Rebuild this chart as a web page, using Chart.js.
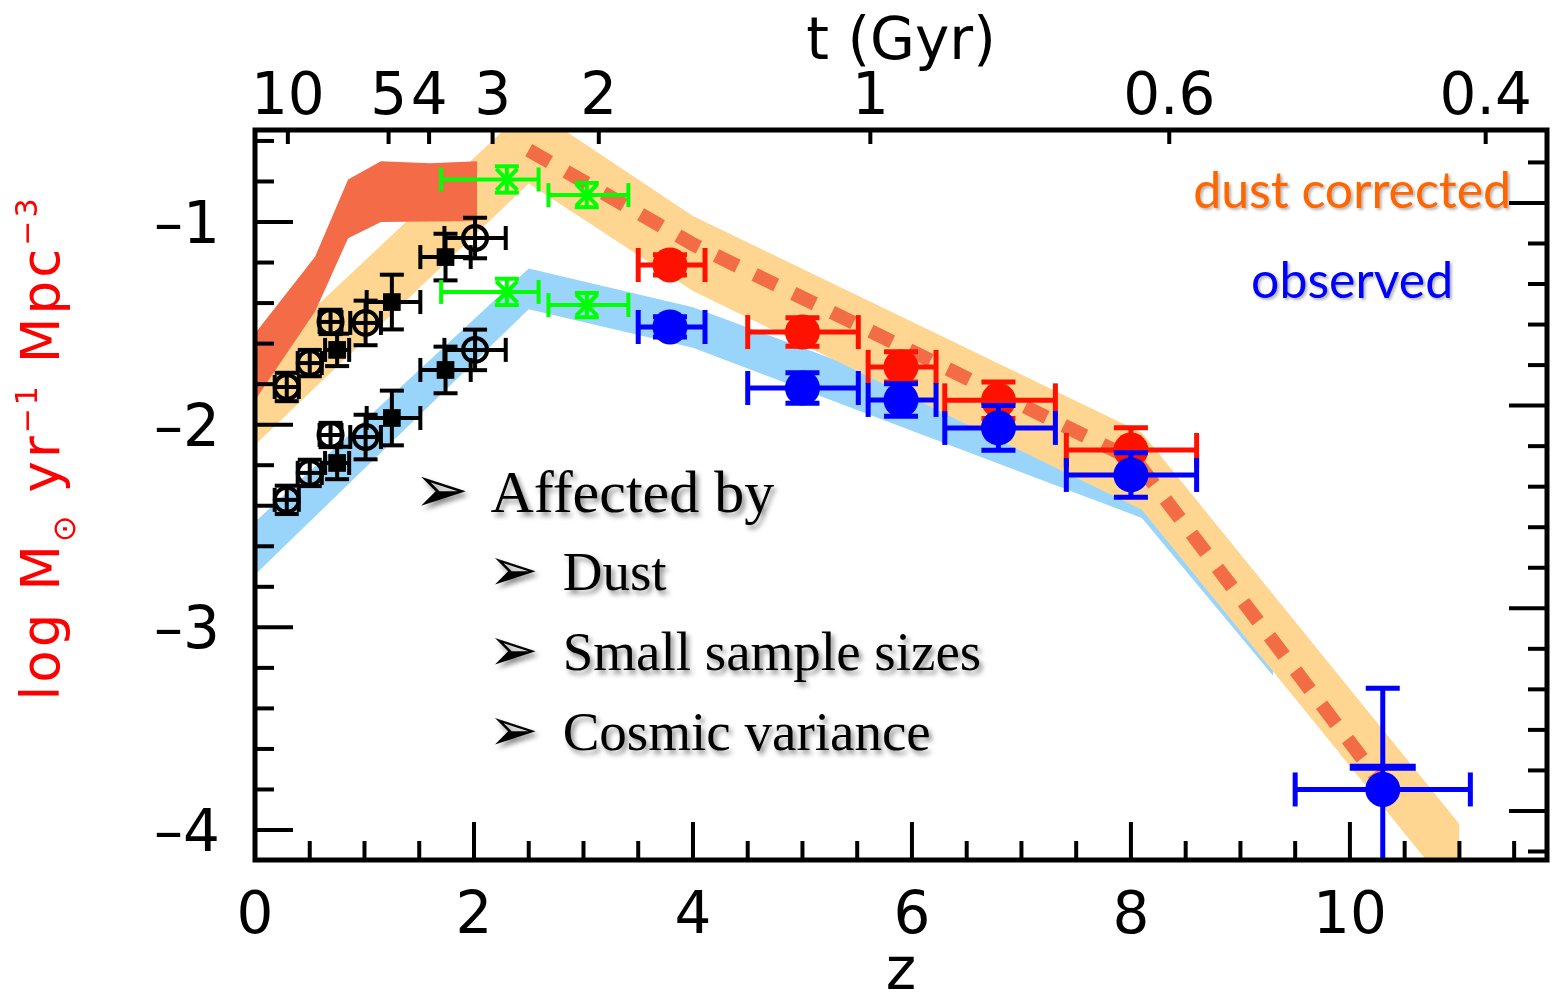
<!DOCTYPE html>
<html><head><meta charset="utf-8">
<script src="https://cdn.jsdelivr.net/npm/chart.js@4.4.1/dist/chart.umd.min.js"></script>
<style>html,body{margin:0;padding:0;background:#fff;}#wrap{width:1554px;height:997px;position:relative;}canvas{display:block;}</style>
</head><body><div id="wrap"><canvas id="c"></canvas></div>
<script>
// ---------- axes ----------
const zRange = [0, 11.8];
const yRange = [-4.148, -0.546];
const yRightOffset = -0.094;          // right-hand axis (unlabelled) is shifted
const xTickValues = [0, 2, 4, 6, 8, 10];
const xMinorStep = 0.5;
const yTickValues = [-1, -2, -3, -4];
const yMinorStep = 0.2;
const tTickZ = [0.30, 1.22, 1.59, 2.17, 3.14, 5.62, 8.35, 11.24];
const tTickLabels = ['10', '5', '4', '3', '2', '1', '0.6', '0.4'];

// ---------- bands ----------
const redBandZ  = [0, 0.55, 0.85, 1.15, 1.6, 2.03];
const redBandHi = [-1.55, -1.17, -0.79, -0.70, -0.71, -0.70];
const redBandLo = [-1.88, -1.44, -1.08, -1.00, -0.998, -0.995];
const orangeBandZ  = [0, 2.5, 4.0, 8.1, 11.0];
const orangeBandHi = [-1.70, -0.43, -0.97, -2.04, -3.97];
const orangeBandLo = [-2.10, -0.81, -1.34, -2.42, -4.35];
const blueBandZ  = [0, 2.5, 4.0, 8.1, 9.3];
const blueBandHi = [-2.48, -1.23, -1.42, -2.24, -3.04];
const blueBandLo = [-2.74, -1.43, -1.62, -2.46, -3.24];
const dustLineZ = [2.5, 4.0, 8.05, 10.3];
const dustLineV = [-0.645, -1.11, -2.18, -3.78];

// ---------- red points (dust corrected) ----------
const redZ   = [3.79, 5.0, 5.9, 6.79, 8.0];
const redV   = [-1.212, -1.543, -1.715, -1.88, -2.125];
const redZlo = [3.50, 4.50, 5.60, 6.30, 7.41];
const redZhi = [4.11, 5.51, 6.22, 7.31, 8.60];
const redErr = [0.05, 0.07, 0.075, 0.09, 0.11];

// ---------- blue points (observed) ----------
const blueZ   = [3.79, 5.0, 5.9, 6.79, 8.0, 10.3];
const blueV   = [-1.518, -1.819, -1.878, -2.016, -2.248, -3.80];
const blueZlo = [3.50, 4.50, 5.60, 6.30, 7.41, 9.50];
const blueZhi = [4.11, 5.51, 6.22, 7.31, 8.60, 11.10];
const blueVlo = [-1.568, -1.894, -1.958, -2.126, -2.358, -4.60];
const blueVhi = [-1.468, -1.744, -1.798, -1.906, -2.138, -3.30];
const blueBarZ = [10.3];
const blueBarV = [-3.69];

// ---------- green points ----------
const greenZ   = [2.30, 3.03];
const greenZlo = [1.70, 2.68];
const greenZhi = [2.59, 3.41];
const greenHiV = [-0.79, -0.867];
const greenLoV = [-1.345, -1.41];
const greenErr = [0.065, 0.06];

// ---------- black points ----------
const circZ   = [0.29, 0.50, 0.69, 1.01, 2.01];
const circZlo = [0.18, 0.39, 0.59, 0.87, 1.73];
const circZhi = [0.40, 0.61, 0.79, 1.15, 2.29];
const circErr = [0.07, 0.065, 0.06, 0.11, 0.10];
const circHiV = [-1.814, -1.696, -1.493, -1.498, -1.079];
const circLoV = [-2.371, -2.238, -2.051, -2.061, -1.631];
const sqZ   = [0.75, 1.25, 1.74];
const sqZlo = [0.64, 1.02, 1.51];
const sqZhi = [0.86, 1.51, 1.97];
const sqErr = [0.08, 0.135, 0.115];
const sqHiV = [-1.631, -1.395, -1.173];
const sqLoV = [-2.189, -1.967, -1.730];

// ---------- text ----------
const bulletLines = ['Affected by', 'Dust', 'Small sample sizes', 'Cosmic variance'];

const pts = (xs, ys) => xs.map((x, i) => ({x: x, y: ys[i]}));
const plus = (v, e) => v.map((a, i) => a + e[i]);
const minus = (v, e) => v.map((a, i) => a - e[i]);

const RED_BAND = '#F36C47', ORANGE_BAND = '#FED692', BLUE_BAND = '#99D5FA';

function band(z, v, color, fillTarget, order) {
  return {type: 'line', data: pts(z, v), borderWidth: 0, pointRadius: 0, backgroundColor: color,
          borderColor: color, fill: fillTarget, order: order, tension: 0};
}

const datasets = [
  band(blueBandZ, blueBandHi, BLUE_BAND, '+1', 20),
  band(blueBandZ, blueBandLo, BLUE_BAND, false, 20),
  band(orangeBandZ, orangeBandHi, ORANGE_BAND, '+1', 19),
  band(orangeBandZ, orangeBandLo, ORANGE_BAND, false, 19),
  band(redBandZ, redBandHi, RED_BAND, '+1', 18),
  band(redBandZ, redBandLo, RED_BAND, false, 18),
  {type: 'line', data: pts(dustLineZ, dustLineV), borderColor: '#F26D45', borderWidth: 14,
   borderDash: [24, 19], borderCapStyle: 'butt', pointRadius: 0, fill: false, order: 17, tension: 0},
  {type: 'scatter', data: pts(circZ, circHiV), pointStyle: 'circle', pointRadius: 12, borderWidth: 4,
   borderColor: '#000', backgroundColor: 'rgba(0,0,0,0)', order: 10,
   err: {xlo: circZlo, xhi: circZhi, ylo: minus(circHiV, circErr), yhi: plus(circHiV, circErr), color: '#000', width: 4, cap: 12}},
  {type: 'scatter', data: pts(sqZ, sqHiV), pointStyle: 'rect', pointRadius: 12.5, borderWidth: 0,
   borderColor: '#000', backgroundColor: '#000', order: 10,
   err: {xlo: sqZlo, xhi: sqZhi, ylo: minus(sqHiV, sqErr), yhi: plus(sqHiV, sqErr), color: '#000', width: 4, cap: 12}},
  {type: 'scatter', data: pts(circZ, circLoV), pointStyle: 'circle', pointRadius: 12, borderWidth: 4,
   borderColor: '#000', backgroundColor: 'rgba(0,0,0,0)', order: 10,
   err: {xlo: circZlo, xhi: circZhi, ylo: minus(circLoV, circErr), yhi: plus(circLoV, circErr), color: '#000', width: 4, cap: 12}},
  {type: 'scatter', data: pts(sqZ, sqLoV), pointStyle: 'rect', pointRadius: 12.5, borderWidth: 0,
   borderColor: '#000', backgroundColor: '#000', order: 10,
   err: {xlo: sqZlo, xhi: sqZhi, ylo: minus(sqLoV, sqErr), yhi: plus(sqLoV, sqErr), color: '#000', width: 4, cap: 12}},
  {type: 'scatter', data: pts(greenZ, greenHiV), pointStyle: 'crossRot', pointRadius: 15, borderWidth: 4,
   borderColor: '#00FF00', backgroundColor: '#00FF00', order: 8,
   err: {xlo: greenZlo, xhi: greenZhi, ylo: minus(greenHiV, greenErr), yhi: plus(greenHiV, greenErr), color: '#00FF00', width: 4, cap: 12}},
  {type: 'scatter', data: pts(greenZ, greenLoV), pointStyle: 'crossRot', pointRadius: 15, borderWidth: 4,
   borderColor: '#00FF00', backgroundColor: '#00FF00', order: 8,
   err: {xlo: greenZlo, xhi: greenZhi, ylo: minus(greenLoV, greenErr), yhi: plus(greenLoV, greenErr), color: '#00FF00', width: 4, cap: 12}},
  {type: 'scatter', data: pts(redZ, redV), pointStyle: 'circle', pointRadius: 17.5, borderWidth: 0,
   backgroundColor: '#FF1100', borderColor: '#FF1100', order: 3,
   err: {xlo: redZlo, xhi: redZhi, ylo: minus(redV, redErr), yhi: plus(redV, redErr), color: '#FF1100', width: 5, cap: 17}},
  {type: 'scatter', data: pts(blueZ, blueV), pointStyle: 'circle', pointRadius: 17.5, borderWidth: 0,
   backgroundColor: '#0000FF', borderColor: '#0000FF', order: 2,
   err: {xlo: blueZlo, xhi: blueZhi, ylo: blueVlo, yhi: blueVhi, color: '#0000FF', width: 5, cap: 17}},
  {type: 'scatter', data: pts(blueBarZ, blueBarV), pointStyle: 'line', pointRadius: 33, borderWidth: 7,
   borderColor: '#0000FF', backgroundColor: '#0000FF', order: 1}
];

// ---------- plugins ----------
function seg(ctx, x0, y0, x1, y1) { ctx.beginPath(); ctx.moveTo(x0, y0); ctx.lineTo(x1, y1); ctx.stroke(); }

const errorBars = {
  id: 'errorBars',
  beforeDatasetDraw(chart, args) {
    const ds = chart.data.datasets[args.index];
    if (!ds.err) return;
    const {ctx, chartArea: a} = chart;
    const xs = chart.scales.x, ys = chart.scales.y, e = ds.err;
    ctx.save();
    ctx.beginPath(); ctx.rect(a.left, a.top, a.right - a.left, a.bottom - a.top); ctx.clip();
    ctx.strokeStyle = e.color; ctx.lineWidth = e.width; ctx.lineCap = 'butt';
    ds.data.forEach((p, i) => {
      const px = xs.getPixelForValue(p.x), py = ys.getPixelForValue(p.y);
      const x0 = xs.getPixelForValue(e.xlo[i]), x1 = xs.getPixelForValue(e.xhi[i]);
      seg(ctx, x0, py, x1, py);
      seg(ctx, x0, py - e.cap, x0, py + e.cap);
      seg(ctx, x1, py - e.cap, x1, py + e.cap);
      const y0 = ys.getPixelForValue(e.ylo[i]), y1 = ys.getPixelForValue(e.yhi[i]);
      seg(ctx, px, y0, px, y1);
      seg(ctx, px - e.cap, y0, px + e.cap, y0);
      seg(ctx, px - e.cap, y1, px + e.cap, y1);
    });
    ctx.restore();
  }
};

const decor = {
  id: 'decor',
  afterDatasetsDraw(chart) {
    const {ctx, chartArea: a, scales} = chart;
    const xs = scales.x, ys = scales.y, y2 = scales.y2;
    ctx.save();
    ctx.strokeStyle = '#000'; ctx.lineCap = 'butt'; ctx.lineWidth = 4;
    for (let k = 1; k * xMinorStep < zRange[1]; k++) {
      const v = k * xMinorStep, px = xs.getPixelForValue(v);
      const major = xTickValues.some(t => Math.abs(t - v) < 1e-6);
      seg(ctx, px, a.bottom, px, a.bottom - (major ? 38 : 19));
    }
    tTickZ.forEach(z => { const px = xs.getPixelForValue(z); seg(ctx, px, a.top, px, a.top + 14); });
    for (let k = Math.ceil(yRange[0] / yMinorStep); k * yMinorStep <= yRange[1]; k++) {
      const v = k * yMinorStep, py = ys.getPixelForValue(v);
      const major = yTickValues.some(t => Math.abs(t - v) < 1e-6);
      seg(ctx, a.left, py, a.left + (major ? 38 : 19), py);
    }
    for (let k = Math.ceil(y2.min / yMinorStep); k * yMinorStep <= y2.max; k++) {
      const v = k * yMinorStep, py = y2.getPixelForValue(v);
      const major = Math.abs(v - Math.round(v)) < 1e-6;
      seg(ctx, a.right, py, a.right - (major ? 38 : 19), py);
    }
    ctx.lineWidth = 5;
    ctx.strokeRect(a.left, a.top, a.right - a.left, a.bottom - a.top);
    ctx.restore();

    // y title (rich text, rotated)
    ctx.save();
    ctx.fillStyle = '#FF0000';
    ctx.letterSpacing = '3px';
    const parts = [
      {t: 'log M', s: 53, dy: 0}, {t: '\u2299', s: 32, dy: 16}, {t: ' yr', s: 53, dy: 0},
      {t: '\u22121', s: 30, dy: -22}, {t: ' Mpc', s: 53, dy: 0}, {t: '\u22123', s: 30, dy: -22}
    ];
    let total = 0;
    parts.forEach(p => { ctx.font = p.s + 'px "DejaVu Sans"'; p.w = ctx.measureText(p.t).width; total += p.w; });
    ctx.translate(59, (a.top + a.bottom) / 2 - 47);
    ctx.rotate(-Math.PI / 2);
    ctx.textBaseline = 'alphabetic'; ctx.textAlign = 'left';
    let cx = -total / 2;
    parts.forEach(p => { ctx.font = p.s + 'px "DejaVu Sans"'; ctx.fillText(p.t, cx, p.dy); cx += p.w; });
    ctx.restore();

    // annotation bullets
    const notes = [
      {arrowZ: 1.45, textZ: 2.15, v: -2.431, size: 60, arrow: 66},
      {arrowZ: 2.13, textZ: 2.81, v: -2.815, size: 55, arrow: 60},
      {arrowZ: 2.13, textZ: 2.81, v: -3.21, size: 55, arrow: 60},
      {arrowZ: 2.13, textZ: 2.81, v: -3.605, size: 55, arrow: 60}
    ];
    ctx.save();
    ctx.shadowColor = 'rgba(0,0,0,0.45)'; ctx.shadowOffsetX = 3; ctx.shadowOffsetY = 4; ctx.shadowBlur = 5;
    ctx.fillStyle = '#000'; ctx.textBaseline = 'alphabetic'; ctx.textAlign = 'left';
    notes.forEach((n, i) => {
      const py = ys.getPixelForValue(n.v);
      ctx.font = n.arrow + 'px "DejaVu Sans"';
      ctx.fillText('\u27A2', xs.getPixelForValue(n.arrowZ), py);
      ctx.font = n.size + 'px "Liberation Serif"';
      ctx.fillText(bulletLines[i], xs.getPixelForValue(n.textZ), py);
    });
    ctx.restore();

    // legend words
    ctx.save();
    ctx.shadowColor = 'rgba(0,0,0,0.3)'; ctx.shadowOffsetX = 2; ctx.shadowOffsetY = 2; ctx.shadowBlur = 3;
    ctx.textAlign = 'center'; ctx.textBaseline = 'alphabetic';
    ctx.font = '50px Lato';
    ctx.fillStyle = '#FF6600';
    ctx.fillText('dust corrected', xs.getPixelForValue(10.02), ys.getPixelForValue(-0.931));
    ctx.fillStyle = '#0000FF';
    ctx.fillText('observed', xs.getPixelForValue(10.02), ys.getPixelForValue(-1.375));
    ctx.restore();
  }
};

const tickFont = {family: 'DejaVu Sans', size: 58, lineHeight: 1};
const noPadH = s => { s.paddingLeft = 0; s.paddingRight = 0; };
const noPadV = s => { s.paddingTop = 0; s.paddingBottom = 0; };

new Chart(document.getElementById('c'), {
  type: 'scatter',
  data: {datasets: datasets},
  options: {
    responsive: true, maintainAspectRatio: false, animation: false,
    layout: {padding: 0, autoPadding: false},
    plugins: {legend: {display: false}, tooltip: {enabled: false}, title: {display: false}},
    scales: {
      x: {
        type: 'linear', position: 'bottom', min: zRange[0], max: zRange[1],
        grid: {display: false, drawTicks: false}, border: {display: false},
        afterBuildTicks: s => { s.ticks = xTickValues.map(v => ({value: v})); },
        ticks: {autoSkip: false, maxRotation: 0, padding: 29, color: '#000', font: tickFont, callback: v => String(v)},
        title: {display: true, text: 'z', color: '#000', font: {family: 'DejaVu Sans', size: 58, lineHeight: 0.8}, padding: 0},
        afterFit: s => { s.height = 137; noPadH(s); }
      },
      x2: {
        type: 'linear', position: 'top', min: zRange[0], max: zRange[1],
        grid: {display: false, drawTicks: false}, border: {display: false},
        afterBuildTicks: s => { s.ticks = tTickZ.map(v => ({value: v})); },
        ticks: {autoSkip: false, maxRotation: 0, padding: 2, color: '#000', font: tickFont, callback: (v, i) => tTickLabels[i]},
        title: {display: true, text: 't (Gyr)', color: '#000', font: {family: 'DejaVu Sans', size: 58, lineHeight: 0.8}, padding: {top: 21, bottom: 0}},
        afterFit: s => { s.height = 130; noPadH(s); }
      },
      y: {
        type: 'linear', position: 'left', min: yRange[0], max: yRange[1],
        grid: {display: false, drawTicks: false}, border: {display: false},
        afterBuildTicks: s => { s.ticks = yTickValues.map(v => ({value: v})); },
        ticks: {autoSkip: false, padding: 35, color: '#000', font: {family: 'DejaVu Sans', size: 58, lineHeight: 0.2},
                callback: v => ['', '\u2013' + Math.abs(v)]},
        afterFit: s => { s.width = 255; noPadV(s); }
      },
      y2: {
        type: 'linear', position: 'right', min: yRange[0] + yRightOffset, max: yRange[1] + yRightOffset,
        grid: {display: false, drawTicks: false}, border: {display: false},
        ticks: {display: false},
        afterFit: s => { s.width = 7; noPadV(s); }
      }
    }
  },
  plugins: [errorBars, decor]
});
</script>
</body></html>
